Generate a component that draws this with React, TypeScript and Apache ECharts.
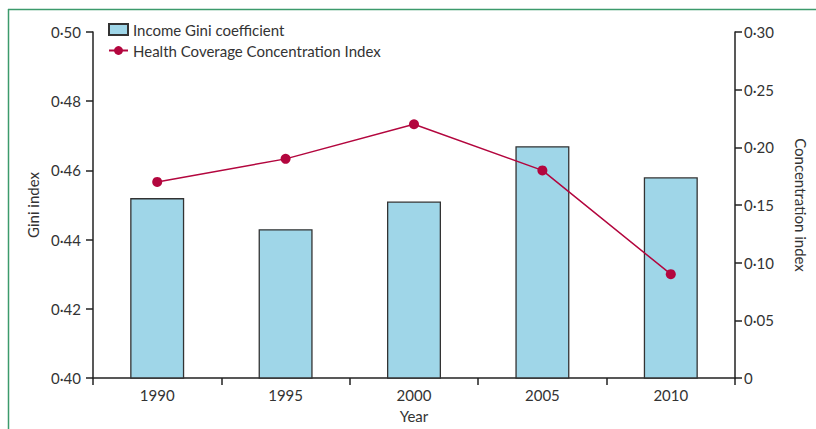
import React, { useEffect, useRef } from "react";
import * as echarts from "echarts";

const years = ["1990", "1995", "2000", "2005", "2010"];
const giniValues = [0.452, 0.443, 0.451, 0.467, 0.458];
const concentrationValues = [0.17, 0.19, 0.22, 0.18, 0.09];

const fmt = (v: number) => (v === 0 ? "0" : v.toFixed(2).replace(".", "·"));

export default function App() {
  const ref = useRef<HTMLDivElement>(null);
  useEffect(() => {
    if (!ref.current) return;
    const chart = echarts.init(ref.current, undefined, { renderer: "svg" });
    const font = "Lato";
    const txt = "#333";
    const fs = 15;
    const axisLine = { show: true, lineStyle: { color: "#222", width: 1.5 } };
    chart.setOption({
      animation: false,
      textStyle: { fontFamily: font },
      grid: { left: 93, right: 76, top: 32, bottom: 51 },
      legend: {
        orient: "vertical",
        left: 103,
        top: 17,
        itemGap: 6,
        itemWidth: 19,
        itemHeight: 11,
        textStyle: { fontFamily: font, fontSize: fs, color: txt },
        data: [
          { name: "Income Gini coefficient", icon: "rect" },
          { name: "Health Coverage Concentration Index" },
        ],
      },
      graphic: [
        { type: "line", shape: { x1: 8.5, y1: 9, x2: 8.5, y2: 429 }, style: { stroke: "#3c9a6c", lineWidth: 1.5 } },
        { type: "line", shape: { x1: 8, y1: 9.5, x2: 816, y2: 9.5 }, style: { stroke: "#3c9a6c", lineWidth: 1.5 } },
      ],
      xAxis: {
        type: "category",
        data: years,
        name: "Year",
        nameLocation: "middle",
        nameGap: 30,
        nameTextStyle: { fontFamily: font, fontSize: fs, color: txt },
        axisLine,
        axisTick: { show: true, alignWithLabel: false, length: 7, lineStyle: { color: "#222", width: 1.5 } },
        axisLabel: { fontFamily: font, fontSize: fs, color: txt, margin: 9 },
      },
      yAxis: [
        {
          type: "value",
          min: 0.4,
          max: 0.5,
          interval: 0.02,
          name: "Gini index",
          nameLocation: "middle",
          nameGap: 53,
          nameTextStyle: { fontFamily: font, fontSize: fs, color: txt },
          axisLine,
          axisTick: { show: true, inside: false, length: 7, lineStyle: { color: "#222", width: 1.5 } },
          splitLine: { show: false },
          axisLabel: { fontFamily: font, fontSize: fs, color: txt, margin: 12, formatter: (v: number) => fmt(v) },
        },
        {
          type: "value",
          min: 0,
          max: 0.3,
          interval: 0.05,
          position: "right",
          name: "Concentration index",
          nameLocation: "middle",
          nameGap: 58,
          nameRotate: -90,
          nameTextStyle: { fontFamily: font, fontSize: fs, color: txt },
          axisLine,
          axisTick: { show: true, inside: false, length: 7, lineStyle: { color: "#222", width: 1.5 } },
          splitLine: { show: false },
          axisLabel: { fontFamily: font, fontSize: fs, color: txt, margin: 9, formatter: (v: number) => fmt(v) },
        },
      ],
      series: [
        {
          name: "Income Gini coefficient",
          type: "bar",
          yAxisIndex: 0,
          data: giniValues,
          barWidth: 54,
          itemStyle: { color: "#9fd6e8", borderColor: "#333", borderWidth: 1.3 },
          z: 2,
        },
        {
          name: "Health Coverage Concentration Index",
          type: "line",
          yAxisIndex: 1,
          data: concentrationValues,
          symbol: "circle",
          symbolSize: 10,
          lineStyle: { color: "#b3063e", width: 1.5 },
          itemStyle: { color: "#b3063e" },
          z: 3,
        },
      ],
    });
    return () => chart.dispose();
  }, []);
  return <div ref={ref} style={{ width: 816, height: 429, position: "absolute", left: 0, top: 0 }} />;
}
